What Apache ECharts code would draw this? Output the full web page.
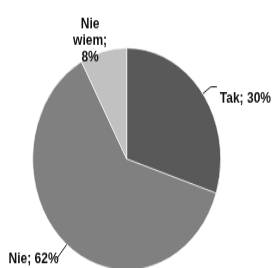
<!DOCTYPE html>
<html><head><meta charset="utf-8">
<script src="https://cdn.jsdelivr.net/npm/echarts@6/dist/echarts.min.js"></script>
<style>
html,body{margin:0;padding:0;background:#fff;overflow:hidden}
#wrap{width:274px;height:268px;overflow:hidden;position:relative}
#c{width:274px;height:227px;transform:scaleY(1.18);transform-origin:0 0}
</style>
</head><body><div id="wrap"><div id="c"></div></div>
<script>
const categories = ['Tak', 'Nie', 'Nie wiem'];
const values = [30, 62, 8];
const colors = ['#595959', '#808080', '#c1c1c1'];

const chart = echarts.init(document.getElementById('c'), null, {renderer: 'canvas'});
const txt = {fontSize: 12, fontWeight: 'bold', fontFamily: 'Liberation Sans', color: '#111'};
const perItem = [
  {label: {distanceToLabelLine: 3, formatter: '{s| }\n{t|{b}; {c}%}',
           rich: {s: {lineHeight: 20, fontSize: 6}, t: Object.assign({lineHeight: 14}, txt)}},
   labelLine: {length: 10, length2: 6}},
  {label: {distanceToLabelLine: -2}, labelLine: {length: 16, length2: 0}},
  {label: {distanceToLabelLine: 0,
           formatter: function (p) { return p.name.split(' ').map(function (w, i, a) { return '{c|' + w + (i === a.length - 1 ? ';' : '') + '}'; }).join('\n') + '\n{c|' + p.value + '%}'; },
           rich: {c: Object.assign({width: 40, align: 'center', lineHeight: 14}, txt)}},
   labelLine: {show: false, length: 9, length2: 0}}
];
const data = categories.map(function (n, i) {
  return Object.assign({name: n, value: values[i], itemStyle: {color: colors[i]}}, perItem[i]);
});
chart.setOption({
  animation: false,
  series: [{
    type: 'pie',
    silent: true,
    startAngle: 90,
    clockwise: true,
    center: [126.7, 134.7],
    radius: 94,
    avoidLabelOverlap: false,
    itemStyle: {borderColor: '#ffffff', borderWidth: 0.6},
    label: Object.assign({show: true, position: 'outside', formatter: '{b}; {c}%', lineHeight: 14}, txt),
    labelLine: {show: true, lineStyle: {color: '#111', width: 1}},
    labelLayout: function (p) {
      if (p.dataIndex === 2) { return {dx: 9}; }
    },
    data: data
  }]
});
</script>
</body></html>
